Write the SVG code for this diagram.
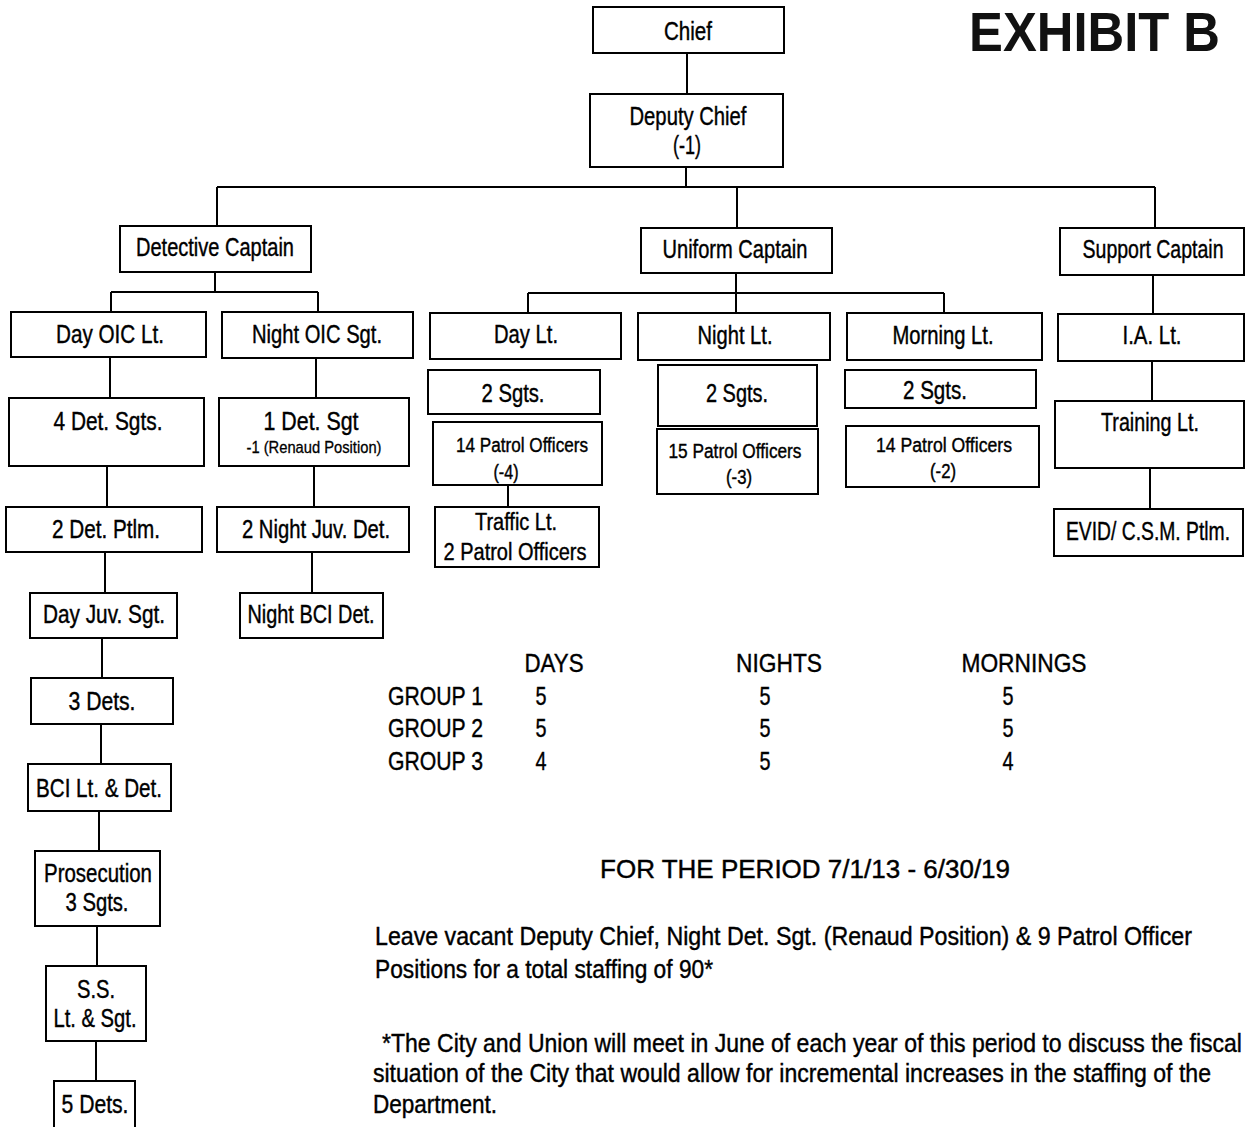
<svg xmlns="http://www.w3.org/2000/svg" width="1246" height="1127" viewBox="0 0 1246 1127">
<style>
.bx{fill:#fff;stroke:#000;stroke-width:2}
.cn{stroke:#000;stroke-width:2;fill:none}
.t{font-family:"Liberation Sans",Arial,sans-serif;font-size:25px;text-anchor:middle;fill:#000;stroke:#000;stroke-width:0.4}
.s{font-size:20px}
.m{font-size:23px}
.xs{font-size:17px;stroke-width:0.3}
.tb{font-family:"Liberation Sans",Arial,sans-serif;font-size:26px;fill:#000;stroke:#000;stroke-width:0.4}
.c{text-anchor:middle}
.p{font-family:"Liberation Sans",Arial,sans-serif;font-size:25px;fill:#000;stroke:#000;stroke-width:0.4}
.h{font-family:"Liberation Sans",Arial,sans-serif;font-size:56px;font-weight:bold;fill:#111}
</style>
<rect width="1246" height="1127" fill="#fff"/>
<g id="connectors">
<path class="cn" d="M687 53V94M686 167V187M217 187H1155M217 187V226M737 187V228M1155 187V228"/>
<path class="cn" d="M215 272V292M111 292H318M111 292V312M318 292V312"/>
<path class="cn" d="M736 273V313M528 293H944M528 293V313M944 293V313"/>
<path class="cn" d="M1153 275V314M1152 361V401M1150 468V509"/>
<path class="cn" d="M110 357V398M107 466V507M105 552V593M102 638V678M101 724V764M99 811V851M97 926V966M96 1041V1081"/>
<path class="cn" d="M316 358V398M314 466V507M312 552V593M508 485V507"/>
</g>
<g id="exhibit"><text class="h" x="1069" y="51" transform="scale(0.9065 1)">EXHIBIT B</text></g>
<g id="chief"><rect class="bx" x="593" y="7" width="191" height="46"/><text class="t" x="688" y="40" textLength="48" lengthAdjust="spacingAndGlyphs">Chief</text></g>
<g id="deputy-chief"><rect class="bx" x="590" y="94" width="193" height="73"/><text class="t" x="688" y="125" textLength="117" lengthAdjust="spacingAndGlyphs">Deputy Chief</text><text class="t" x="687" y="154" textLength="28" lengthAdjust="spacingAndGlyphs">(-1)</text></g>
<g id="detective-captain"><rect class="bx" x="120" y="226" width="191" height="46"/><text class="t" x="215" y="256" textLength="158" lengthAdjust="spacingAndGlyphs">Detective Captain</text></g>
<g id="uniform-captain"><rect class="bx" x="641" y="228" width="191" height="45"/><text class="t" x="735" y="258" textLength="145" lengthAdjust="spacingAndGlyphs">Uniform Captain</text></g>
<g id="support-captain"><rect class="bx" x="1060" y="228" width="184" height="47"/><text class="t" x="1477.3" y="258" transform="scale(0.7805 1)">Support Captain</text></g>
<g id="day-oic-lt"><rect class="bx" x="11" y="312" width="195" height="45"/><text class="t" x="110" y="343" textLength="108" lengthAdjust="spacingAndGlyphs">Day OIC Lt.</text></g>
<g id="night-oic-sgt"><rect class="bx" x="222" y="312" width="191" height="46"/><text class="t" x="317" y="343" textLength="130" lengthAdjust="spacingAndGlyphs">Night OIC Sgt.</text></g>
<g id="day-lt"><rect class="bx" x="430" y="313" width="191" height="46"/><text class="t" x="526" y="343" textLength="64" lengthAdjust="spacingAndGlyphs">Day Lt.</text></g>
<g id="night-lt"><rect class="bx" x="638" y="313" width="192" height="47"/><text class="t" x="735" y="344" textLength="75" lengthAdjust="spacingAndGlyphs">Night Lt.</text></g>
<g id="morning-lt"><rect class="bx" x="847" y="313" width="195" height="47"/><text class="t" x="943" y="344" textLength="101" lengthAdjust="spacingAndGlyphs">Morning Lt.</text></g>
<g id="ia-lt"><rect class="bx" x="1058" y="314" width="186" height="47"/><text class="t" x="1152" y="344" textLength="59" lengthAdjust="spacingAndGlyphs">I.A. Lt.</text></g>
<g id="det-sgts-4"><rect class="bx" x="9" y="398" width="195" height="68"/><text class="t" x="108" y="430" textLength="109" lengthAdjust="spacingAndGlyphs">4 Det. Sgts.</text></g>
<g id="det-sgt-1"><rect class="bx" x="219" y="398" width="190" height="68"/><text class="t" x="311" y="430" textLength="95" lengthAdjust="spacingAndGlyphs">1 Det. Sgt</text><text class="t xs" x="314" y="453" textLength="135" lengthAdjust="spacingAndGlyphs">-1 (Renaud Position)</text></g>
<g id="day-sgts"><rect class="bx" x="428" y="370" width="172" height="44"/><text class="t" x="513" y="402" textLength="63" lengthAdjust="spacingAndGlyphs">2 Sgts.</text></g>
<g id="day-patrol"><rect class="bx" x="433" y="422" width="169" height="63"/><text class="t s" x="522" y="452" textLength="132" lengthAdjust="spacingAndGlyphs">14 Patrol Officers</text><text class="t s" x="506" y="479" textLength="25" lengthAdjust="spacingAndGlyphs">(-4)</text></g>
<g id="traffic"><rect class="bx" x="435" y="507" width="164" height="60"/><text class="t m" x="516" y="530" textLength="82" lengthAdjust="spacingAndGlyphs">Traffic Lt.</text><text class="t m" x="515" y="560" textLength="143" lengthAdjust="spacingAndGlyphs">2 Patrol Officers</text></g>
<g id="det-ptlm"><rect class="bx" x="6" y="507" width="196" height="45"/><text class="t" x="106" y="538" textLength="108" lengthAdjust="spacingAndGlyphs">2 Det. Ptlm.</text></g>
<g id="night-juv"><rect class="bx" x="217" y="507" width="192" height="45"/><text class="t" x="316" y="538" textLength="148" lengthAdjust="spacingAndGlyphs">2 Night Juv. Det.</text></g>
<g id="day-juv"><rect class="bx" x="30" y="593" width="147" height="45"/><text class="t" x="104" y="623" textLength="122" lengthAdjust="spacingAndGlyphs">Day Juv. Sgt.</text></g>
<g id="night-bci"><rect class="bx" x="240" y="593" width="143" height="45"/><text class="t" x="311" y="623" textLength="127" lengthAdjust="spacingAndGlyphs">Night BCI Det.</text></g>
<g id="dets-3"><rect class="bx" x="31" y="678" width="142" height="46"/><text class="t" x="102" y="710" textLength="67" lengthAdjust="spacingAndGlyphs">3 Dets.</text></g>
<g id="bci-lt"><rect class="bx" x="28" y="764" width="143" height="47"/><text class="t" x="99" y="797" textLength="126" lengthAdjust="spacingAndGlyphs">BCI Lt. &amp; Det.</text></g>
<g id="prosecution"><rect class="bx" x="35" y="851" width="125" height="75"/><text class="t" x="98" y="882" textLength="108" lengthAdjust="spacingAndGlyphs">Prosecution</text><text class="t" x="97" y="911" textLength="63" lengthAdjust="spacingAndGlyphs">3 Sgts.</text></g>
<g id="ss"><rect class="bx" x="46" y="966" width="100" height="75"/><text class="t" x="96" y="998" textLength="38" lengthAdjust="spacingAndGlyphs">S.S.</text><text class="t" x="95" y="1027" textLength="83" lengthAdjust="spacingAndGlyphs">Lt. &amp; Sgt.</text></g>
<g id="dets-5"><rect class="bx" x="54" y="1081" width="81" height="52"/><text class="t" x="95" y="1113" textLength="67" lengthAdjust="spacingAndGlyphs">5 Dets.</text></g>
<g id="night-sgts"><rect class="bx" x="658" y="365" width="159" height="61"/><text class="t" x="737" y="402" textLength="62" lengthAdjust="spacingAndGlyphs">2 Sgts.</text></g>
<g id="night-patrol"><rect class="bx" x="657" y="429" width="161" height="65"/><text class="t s" x="735" y="458" textLength="133" lengthAdjust="spacingAndGlyphs">15 Patrol Officers</text><text class="t s" x="739" y="484" textLength="26" lengthAdjust="spacingAndGlyphs">(-3)</text></g>
<g id="morning-sgts"><rect class="bx" x="845" y="370" width="191" height="38"/><text class="t" x="935" y="399" textLength="64" lengthAdjust="spacingAndGlyphs">2 Sgts.</text></g>
<g id="morning-patrol"><rect class="bx" x="846" y="426" width="193" height="61"/><text class="t s" x="944" y="452" textLength="136" lengthAdjust="spacingAndGlyphs">14 Patrol Officers</text><text class="t s" x="943" y="478" textLength="26" lengthAdjust="spacingAndGlyphs">(-2)</text></g>
<g id="training-lt"><rect class="bx" x="1055" y="401" width="189" height="67"/><text class="t" x="1150" y="431" textLength="98" lengthAdjust="spacingAndGlyphs">Training Lt.</text></g>
<g id="evid"><rect class="bx" x="1054" y="509" width="189" height="47"/><text class="t" x="1486.3" y="540" transform="scale(0.7724 1)">EVID/ C.S.M. Ptlm.</text></g>
<g id="table">
<text class="tb c" x="554" y="672" textLength="59" lengthAdjust="spacingAndGlyphs">DAYS</text>
<text class="tb c" x="779" y="672" textLength="86" lengthAdjust="spacingAndGlyphs">NIGHTS</text>
<text class="tb c" x="1024" y="672" textLength="125" lengthAdjust="spacingAndGlyphs">MORNINGS</text>
<text class="tb" x="388" y="705" textLength="95" lengthAdjust="spacingAndGlyphs">GROUP 1</text>
<text class="tb" x="388" y="737" textLength="95" lengthAdjust="spacingAndGlyphs">GROUP 2</text>
<text class="tb" x="388" y="770" textLength="95" lengthAdjust="spacingAndGlyphs">GROUP 3</text>
<text class="tb c" x="541" y="705" textLength="11" lengthAdjust="spacingAndGlyphs">5</text>
<text class="tb c" x="541" y="737" textLength="11" lengthAdjust="spacingAndGlyphs">5</text>
<text class="tb c" x="541" y="770" textLength="11" lengthAdjust="spacingAndGlyphs">4</text>
<text class="tb c" x="765" y="705" textLength="11" lengthAdjust="spacingAndGlyphs">5</text>
<text class="tb c" x="765" y="737" textLength="11" lengthAdjust="spacingAndGlyphs">5</text>
<text class="tb c" x="765" y="770" textLength="11" lengthAdjust="spacingAndGlyphs">5</text>
<text class="tb c" x="1008" y="705" textLength="11" lengthAdjust="spacingAndGlyphs">5</text>
<text class="tb c" x="1008" y="737" textLength="11" lengthAdjust="spacingAndGlyphs">5</text>
<text class="tb c" x="1008" y="770" textLength="11" lengthAdjust="spacingAndGlyphs">4</text>
</g>
<g id="notes" transform="scale(0.92 1)">
<text class="p" x="652.2" y="878" font-size="27" textLength="445.7" lengthAdjust="spacingAndGlyphs">FOR THE PERIOD 7/1/13 - 6/30/19</text>
<text class="p" x="407.6" y="945" textLength="888" lengthAdjust="spacingAndGlyphs">Leave vacant Deputy Chief, Night Det. Sgt. (Renaud Position) &amp; 9 Patrol Officer</text>
<text class="p" x="407.6" y="978" textLength="367.4" lengthAdjust="spacingAndGlyphs">Positions for a total staffing of 90*</text>
<text class="p" x="415.2" y="1052" textLength="934.8" lengthAdjust="spacingAndGlyphs">*The City and Union will meet in June of each year of this period to discuss the fiscal</text>
<text class="p" x="405.4" y="1082" textLength="910.9" lengthAdjust="spacingAndGlyphs">situation of the City that would allow for incremental increases in the staffing of the</text>
<text class="p" x="405.4" y="1113" textLength="134.8" lengthAdjust="spacingAndGlyphs">Department.</text>
</g>
</svg>
